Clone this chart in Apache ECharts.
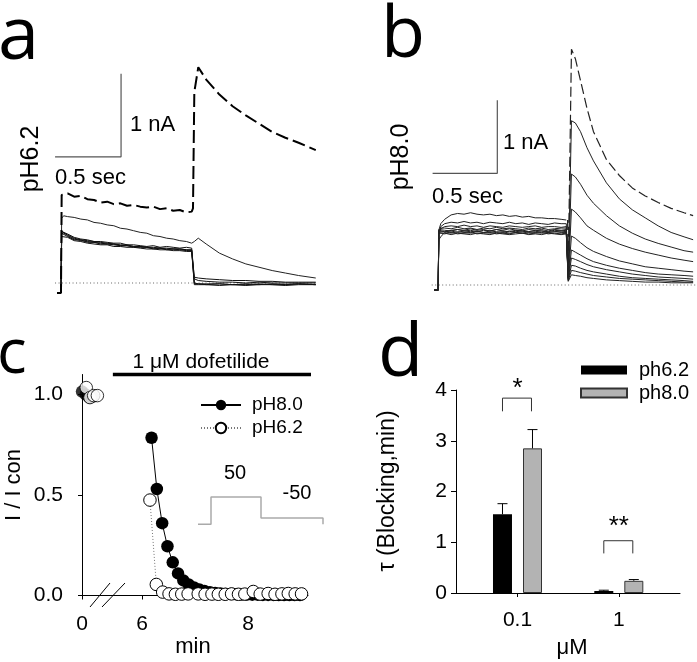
<!DOCTYPE html>
<html><head><meta charset="utf-8">
<script src="https://cdn.jsdelivr.net/npm/echarts@6/dist/echarts.min.js"></script>
<style>html,body{margin:0;padding:0;background:#fff}#c{width:697px;height:662px}</style>
</head><body><div id="c"></div>
<script>
// ---------- Panel a (pH6.2 current traces; time in s, current in nA) ----------
const timesA = [-0.03, 0, 0.005, 0.02, 0.05, 0.1, 0.15, 0.2, 0.25, 0.3, 0.35, 0.4, 0.45, 0.5, 0.55, 0.6, 0.65, 0.7, 0.75, 0.8, 0.85, 0.9, 0.95, 0.99, 1.0, 1.01, 1.04, 1.1, 1.2, 1.3, 1.4, 1.5, 1.6, 1.7, 1.8, 1.93];
const aControl = [-0.12, -0.12, 1.06, 1.07, 1.08, 1.04, 1.05, 1.01, 1.0, 0.97, 0.98, 0.95, 0.96, 0.93, 0.94, 0.92, 0.91, 0.92, 0.89, 0.9, 0.87, 0.88, 0.85, 0.86, 0.9, 2.3, 2.6, 2.45, 2.27, 2.13, 2.02, 1.92, 1.82, 1.75, 1.69, 1.6];
const aTrace1 = [-0.12, -0.12, 0.78, 0.81, 0.80, 0.79, 0.77, 0.76, 0.73, 0.72, 0.70, 0.69, 0.66, 0.65, 0.63, 0.61, 0.60, 0.57, 0.56, 0.54, 0.53, 0.51, 0.50, 0.48, 0.47, 0.50, 0.54, 0.47, 0.36, 0.29, 0.23, 0.19, 0.15, 0.12, 0.09, 0.06];
const aTrace2 = [-0.12, -0.12, 0.62, 0.63, 0.59, 0.55, 0.53, 0.52, 0.50, 0.50, 0.49, 0.48, 0.48, 0.46, 0.46, 0.45, 0.44, 0.45, 0.43, 0.44, 0.43, 0.42, 0.43, 0.42, 0.42, 0.05, 0.03, 0.02, 0.01, 0.01, 0.00, 0.01, 0.00, 0.00, 0.00, 0.00];
const aTrace3 = [-0.12, -0.12, 0.58, 0.61, 0.57, 0.53, 0.51, 0.50, 0.49, 0.48, 0.47, 0.47, 0.45, 0.45, 0.44, 0.44, 0.43, 0.42, 0.42, 0.41, 0.41, 0.41, 0.40, 0.40, 0.40, 0.0, -0.01, -0.01, -0.01, -0.02, -0.01, -0.02, -0.01, -0.02, -0.01, -0.02];
const aTrace4 = [-0.12, -0.12, 0.60, 0.58, 0.56, 0.52, 0.52, 0.49, 0.49, 0.47, 0.47, 0.46, 0.45, 0.45, 0.43, 0.43, 0.43, 0.41, 0.42, 0.40, 0.41, 0.40, 0.39, 0.40, 0.39, -0.01, -0.01, -0.02, -0.01, -0.02, -0.02, -0.01, -0.02, -0.02, -0.01, -0.02];
const aTrace5 = [-0.12, -0.12, 0.56, 0.57, 0.55, 0.51, 0.50, 0.48, 0.47, 0.46, 0.46, 0.44, 0.44, 0.43, 0.43, 0.42, 0.41, 0.41, 0.40, 0.40, 0.39, 0.39, 0.38, 0.38, 0.38, -0.02, -0.02, -0.02, -0.03, -0.02, -0.03, -0.02, -0.02, -0.03, -0.02, -0.02];
const aTrace6 = [-0.12, -0.12, 0.63, 0.60, 0.58, 0.54, 0.52, 0.51, 0.50, 0.49, 0.48, 0.47, 0.46, 0.46, 0.44, 0.44, 0.43, 0.43, 0.42, 0.42, 0.41, 0.41, 0.40, 0.39, 0.38, 0.07, 0.06, 0.05, 0.04, 0.03, 0.03, 0.02, 0.02, 0.01, 0.01, 0.01];
const aBaseline = [[-0.045, 0], [1.93, 0]];
const aScaleBar = [[-0.045, 1.52], [0.455, 1.52], [0.455, 2.52]];

// ---------- Panel b (pH8.0 current traces) ----------
const timesB = [-0.03, 0, 0.005, 0.02, 0.05, 0.1, 0.15, 0.2, 0.25, 0.3, 0.35, 0.4, 0.45, 0.5, 0.55, 0.6, 0.65, 0.7, 0.75, 0.8, 0.85, 0.9, 0.95, 0.99, 1.0, 1.005, 1.03, 1.06, 1.1, 1.15, 1.2, 1.3, 1.4, 1.5, 1.6, 1.7, 1.8, 1.9, 1.97];
const bControlPulse = [-0.07,-0.07,0.75,0.84,0.90,0.96,0.98,0.97,0.99,0.97,0.96,0.97,0.95,0.96,0.94,0.95,0.93,0.94,0.92,0.92,0.91,0.91,0.90,0.89];
const bControlTail = [0.89, 0.2, 3.23, 3.1, 2.8, 2.42, 2.1, 1.72, 1.5, 1.33, 1.22, 1.13, 1.05, 0.99, 0.95];
const bT1Pulse = [-0.07,-0.07,0.72,0.80,0.84,0.86,0.85,0.87,0.85,0.86,0.84,0.86,0.85,0.84,0.86,0.84,0.85,0.83,0.85,0.84,0.83,0.85,0.84,0.84];
const bT1Tail = [0.84, 0.15, 2.25, 2.22, 2.1, 1.88, 1.7, 1.4, 1.18, 1.03, 0.92, 0.81, 0.72, 0.66, 0.62];
const bT2Pulse = [-0.07,-0.07,0.70,0.77,0.80,0.81,0.80,0.82,0.80,0.81,0.79,0.81,0.80,0.79,0.81,0.80,0.79,0.80,0.81,0.79,0.80,0.80,0.79,0.80];
const bT2Tail = [0.80, 0.12, 1.52, 1.48, 1.38, 1.23, 1.12, 0.95, 0.81, 0.71, 0.63, 0.57, 0.52, 0.47, 0.45];
const bT3Pulse = [-0.07,-0.07,0.74,0.78,0.78,0.77,0.79,0.77,0.78,0.76,0.78,0.77,0.79,0.77,0.78,0.77,0.76,0.78,0.77,0.78,0.76,0.77,0.78,0.78];
const bT3Tail = [0.78, 0.1, 1.04, 1.0, 0.92, 0.81, 0.75, 0.64, 0.56, 0.5, 0.45, 0.41, 0.37, 0.34, 0.32];
const bT4Pulse = [-0.07,-0.07,0.62,0.66,0.72,0.75,0.76,0.75,0.77,0.75,0.76,0.74,0.76,0.75,0.77,0.75,0.74,0.76,0.75,0.76,0.74,0.76,0.75,0.76];
const bT4Tail = [0.76, 0.1, 0.67, 0.64, 0.58, 0.51, 0.46, 0.39, 0.33, 0.29, 0.25, 0.23, 0.21, 0.19, 0.18];
const bT5Pulse = [-0.07,-0.07,0.76,0.77,0.75,0.74,0.76,0.74,0.75,0.73,0.75,0.74,0.76,0.74,0.73,0.75,0.74,0.73,0.75,0.74,0.73,0.75,0.74,0.75];
const bT5Tail = [0.75, 0.09, 0.48, 0.45, 0.41, 0.36, 0.32, 0.27, 0.23, 0.2, 0.17, 0.15, 0.14, 0.13, 0.12];
const bT6Pulse = [-0.07,-0.07,0.75,0.74,0.73,0.74,0.72,0.74,0.73,0.74,0.72,0.74,0.73,0.72,0.74,0.73,0.74,0.72,0.73,0.74,0.72,0.73,0.74,0.73];
const bT6Tail = [0.73, 0.08, 0.37, 0.35, 0.32, 0.28, 0.25, 0.21, 0.18, 0.15, 0.13, 0.11, 0.1, 0.09, 0.08];
const bT7Pulse = [-0.07,-0.07,0.73,0.72,0.73,0.71,0.73,0.72,0.71,0.73,0.72,0.71,0.72,0.73,0.71,0.72,0.71,0.73,0.72,0.71,0.72,0.73,0.72,0.72];
const bT7Tail = [0.72, 0.07, 0.27, 0.26, 0.23, 0.2, 0.18, 0.15, 0.12, 0.1, 0.09, 0.08, 0.07, 0.06, 0.05];
const bT8Pulse = [-0.07,-0.07,0.72,0.71,0.70,0.72,0.70,0.71,0.72,0.70,0.71,0.72,0.70,0.71,0.70,0.72,0.71,0.70,0.71,0.72,0.70,0.71,0.70,0.71];
const bT8Tail = [0.71, 0.06, 0.2, 0.19, 0.17, 0.15, 0.13, 0.11, 0.09, 0.08, 0.07, 0.06, 0.05, 0.04, 0.04];
const bT9Pulse = [-0.07,-0.07,0.71,0.70,0.71,0.69,0.71,0.70,0.69,0.71,0.70,0.69,0.71,0.70,0.69,0.70,0.71,0.69,0.70,0.69,0.71,0.70,0.69,0.70];
const bT9Tail = [0.70, 0.05, 0.14, 0.13, 0.12, 0.1, 0.09, 0.07, 0.06, 0.05, 0.04, 0.04, 0.03, 0.03, 0.03];
const bBaseline = [[-0.05, 0], [1.99, 0]];
const bScaleBar = [[-0.043, 1.53], [0.457, 1.53], [0.457, 2.53]];

// ---------- Panel c (I / I con vs min) ----------
const c80LeftTimes = [0, 0.07, 0.14, 0.21];
const c80LeftVals = [1.015, 1.0, 0.985, 0.99];
const c62LeftTimes = [0.08, 0.15, 0.22, 0.29];
const c62LeftVals = [1.035, 0.985, 0.995, 0.995];
const c80Times = [6.18, 6.28, 6.38, 6.48, 6.58, 6.68, 6.78, 6.88, 6.98, 7.08, 7.18, 7.28, 7.38, 7.48, 7.58, 7.68, 7.78, 7.88, 7.98, 8.08, 8.18, 8.28, 8.38, 8.48, 8.58, 8.68, 8.78, 8.88, 8.98];
const c80Vals = [0.785, 0.53, 0.36, 0.245, 0.165, 0.11, 0.075, 0.055, 0.04, 0.03, 0.022, 0.016, 0.012, 0.01, 0.008, 0.007, 0.006, 0.005, 0.005, 0.004, 0.004, 0.003, 0.003, 0.003, 0.002, 0.002, 0.002, 0.002, 0.002];
const c62Times = [6.15, 6.27, 6.39, 6.51, 6.63, 6.75, 6.87, 7.06, 7.19, 7.32, 7.44, 7.57, 7.69, 7.82, 7.94, 8.1, 8.23, 8.38, 8.51, 8.64, 8.76, 8.89, 9.01];
const c62Vals = [0.475, 0.055, 0.017, 0.008, 0.006, 0.007, 0.008, 0.008, 0.006, 0.007, 0.006, 0.006, 0.008, 0.006, 0.007, 0.02, 0.007, 0.01, 0.006, 0.008, 0.01, 0.008, 0.008];
const cXTicksLeft = [0];
const cXTicksRight = [6, 8];
const cYTicks = [0, 0.5, 1.0];
const drugBar = [[5.45, 1.1], [9.3, 1.1]];
const protoTimes = [-0.26, 0, 0, 1, 1, 2.24, 2.24];
const protoVolts = [-80, -80, 50, 50, -50, -50, -80];

// ---------- Panel d (tau blocking) ----------
const dConc = ['0.1', '1'];
const dPos = [1, 2];
const d62 = [1.55, 0.04];
const d62Err = [0.21, 0.015];
const d80 = [2.85, 0.24];
const d80Err = [0.37, 0.025];
const sigTop = [3.84, 1.03];
const sigLeg = [3.58, 0.78];
const sigText = ['*', '**'];
const sigTextY = [4.02, 1.3];
const dYTicks = [0, 1, 2, 3, 4];

const zip = (xs, ys) => xs.map((x, i) => [x, ys[i]]);
const FONT = "'Liberation Sans', Arial, sans-serif";
const LETTER = "'Open Sans', 'Liberation Sans', sans-serif";

function trace(ax, data, color, width, type) {
  return {type: 'line', xAxisIndex: ax, yAxisIndex: ax, data: data, symbol: 'none', silent: true,
    lineStyle: {color: color, width: width, type: type || 'solid'}, clip: false, z: 2};
}

const series = [];
// panel a
series.push(trace(0, aBaseline, '#666', 1, [1, 2.5]));
series.push(trace(0, aScaleBar, '#555', 1.2));
[aTrace2, aTrace3, aTrace4, aTrace5, aTrace6].forEach(v => series.push(trace(0, zip(timesA, v), '#111', 1)));
series.push(trace(0, zip(timesA, aTrace1), '#222', 1));
series.push(trace(0, zip(timesA, aControl), '#000', 2, [13, 5]));
// panel b
series.push(trace(1, bBaseline, '#666', 1, [1, 2.5]));
series.push(trace(1, bScaleBar, '#555', 1.2));
const bPulses = [bT9Pulse, bT8Pulse, bT7Pulse, bT6Pulse, bT5Pulse, bT4Pulse, bT3Pulse, bT2Pulse, bT1Pulse];
const bTails = [bT9Tail, bT8Tail, bT7Tail, bT6Tail, bT5Tail, bT4Tail, bT3Tail, bT2Tail, bT1Tail];
bPulses.forEach((p, i) => series.push(trace(1, zip(timesB, p.concat(bTails[i])), '#222', 1)));
series.push(trace(1, zip(timesB.slice(0, 24), bControlPulse), '#222', 1));
series.push(trace(1, zip(timesB.slice(24), bControlTail), '#222', 1.2, [10, 4]));
// panel c
series.push({type: 'scatter', xAxisIndex: 2, yAxisIndex: 2, data: zip(c80LeftTimes, c80LeftVals), symbol: 'circle', symbolSize: 12.5,
  itemStyle: {color: '#000'}, clip: false, z: 3});
series.push({type: 'scatter', xAxisIndex: 2, yAxisIndex: 2, data: zip(c62LeftTimes, c62LeftVals), symbol: 'circle', symbolSize: 12.5,
  itemStyle: {color: '#fff', borderColor: '#000', borderWidth: 1}, clip: false, z: 4});
series.push({type: 'line', name: 'pH8.0', xAxisIndex: 3, yAxisIndex: 3, data: zip(c80Times, c80Vals), symbol: 'circle', symbolSize: 12.5,
  showAllSymbol: true, itemStyle: {color: '#000'}, lineStyle: {color: '#000', width: 1}, clip: false, z: 3});
series.push({type: 'line', name: 'pH6.2', xAxisIndex: 3, yAxisIndex: 3, data: zip(c62Times, c62Vals), symbol: 'circle', symbolSize: 12.5,
  showAllSymbol: true, itemStyle: {color: '#fff', borderColor: '#000', borderWidth: 1}, lineStyle: {color: '#777', width: 1, type: [1, 2]}, clip: false, z: 4});
series.push({type: 'line', xAxisIndex: 3, yAxisIndex: 3, data: drugBar, symbol: 'none', lineStyle: {color: '#000', width: 3.5}, clip: false, silent: true});
series.push({type: 'line', xAxisIndex: 4, yAxisIndex: 4, data: zip(protoTimes, protoVolts), symbol: 'none', lineStyle: {color: '#aaa', width: 1.5}, clip: false, silent: true});
// panel d
series.push({type: 'bar', name: 'ph6.2', xAxisIndex: 5, yAxisIndex: 5, data: zip(dPos, d62), barWidth: 19, barGap: '58%',
  itemStyle: {color: '#000'}});
series.push({type: 'bar', name: 'ph8.0', xAxisIndex: 5, yAxisIndex: 5, data: zip(dPos, d80), barWidth: 19, barGap: '58%',
  itemStyle: {color: '#b3b3b3', borderColor: '#333', borderWidth: 1}});
function errSeries(vals, errs, offset) {
  return {type: 'custom', xAxisIndex: 5, yAxisIndex: 5, silent: true, z: 3,
    data: dPos.map((p, i) => [p, vals[i], vals[i] + errs[i]]),
    renderItem: (params, api) => {
      const a = api.coord([api.value(0), api.value(1)]);
      const b = api.coord([api.value(0), api.value(2)]);
      const x = a[0] + offset;
      return {type: 'group', children: [
        {type: 'line', shape: {x1: x, y1: a[1], x2: x, y2: b[1]}, style: {stroke: '#000', lineWidth: 1}},
        {type: 'line', shape: {x1: x - 5, y1: b[1], x2: x + 5, y2: b[1]}, style: {stroke: '#000', lineWidth: 1}}
      ]};
    }};
}
series.push(errSeries(d62, d62Err, -15));
series.push(errSeries(d80, d80Err, 15));
series.push({type: 'custom', xAxisIndex: 5, yAxisIndex: 5, silent: true, z: 3,
  data: dPos.map((p, i) => [p, sigTop[i], sigLeg[i], sigTextY[i]]),
  renderItem: (params, api) => {
    const t = api.coord([api.value(0), api.value(1)]);
    const l = api.coord([api.value(0), api.value(2)]);
    const s = api.coord([api.value(0), api.value(3)]);
    const x1 = t[0] - 15, x2 = t[0] + 14;
    return {type: 'group', children: [
      {type: 'polyline', shape: {points: [[x1, l[1]], [x1, t[1]], [x2, t[1]], [x2, l[1]]]}, style: {stroke: '#333', lineWidth: 1, fill: null}},
      {type: 'text', x: t[0], y: s[1], style: {text: sigText[params.dataIndex], font: '26px ' + FONT, fill: '#000', align: 'center', verticalAlign: 'middle'}}
    ]};
  }});

const axisText = {color: '#000', fontSize: 21, fontFamily: FONT};
const blackLine = {show: true, onZero: false, lineStyle: {color: '#000', width: 1}};

const option = {
  animation: false,
  backgroundColor: '#fff',
  grid: [
    {left: 54.4, top: 50.6, width: 264, height: 249},
    {left: 431.7, top: 36.8, width: 269, height: 262.8},
    {left: 82, top: 374.5, width: 28, height: 221},
    {left: 110, top: 374.5, width: 198, height: 221},
    {left: 198, top: 497, width: 125, height: 27.3},
    {left: 456, top: 390, width: 224, height: 203}
  ],
  xAxis: [
    {gridIndex: 0, type: 'value', min: -0.05, max: 1.95, show: false},
    {gridIndex: 1, type: 'value', min: -0.05, max: 2.0, show: false},
    {gridIndex: 2, type: 'value', min: 0, max: 0.528, axisLine: blackLine, splitLine: {show: false},
      axisTick: {show: true, customValues: cXTicksLeft, length: 4, lineStyle: {color: '#000'}},
      axisLabel: Object.assign({customValues: cXTicksLeft, margin: 18}, axisText)},
    {gridIndex: 3, type: 'value', min: 5.396, max: 9.132, axisLine: blackLine, splitLine: {show: false},
      axisTick: {show: true, customValues: cXTicksRight, length: 4, lineStyle: {color: '#000'}},
      axisLabel: Object.assign({customValues: cXTicksRight, margin: 18}, axisText)},
    {gridIndex: 4, type: 'value', min: -0.26, max: 2.24, show: false},
    {gridIndex: 5, type: 'value', min: 0.393, max: 2.604, axisLine: blackLine, splitLine: {show: false},
      axisTick: {show: true, customValues: dPos, length: 4, lineStyle: {color: '#000'}},
      axisLabel: Object.assign({customValues: dPos, margin: 17, formatter: v => dConc[Math.round(v) - 1]}, axisText)}
  ],
  yAxis: [
    {gridIndex: 0, type: 'value', min: -0.2, max: 2.8, show: false},
    {gridIndex: 1, type: 'value', min: -0.2, max: 3.4, show: false},
    {gridIndex: 2, type: 'value', min: 0, max: 1.1, axisLine: blackLine, splitLine: {show: false},
      axisTick: {show: true, customValues: cYTicks, length: 4, lineStyle: {color: '#000'}},
      axisLabel: Object.assign({customValues: cYTicks, margin: 19, formatter: v => v.toFixed(1)}, axisText)},
    {gridIndex: 3, type: 'value', min: 0, max: 1.1, show: false},
    {gridIndex: 4, type: 'value', min: -80, max: 50, show: false},
    {gridIndex: 5, type: 'value', min: 0, max: 4, axisLine: blackLine, splitLine: {show: false},
      axisTick: {show: true, customValues: dYTicks, length: 5, lineStyle: {color: '#000'}},
      axisLabel: Object.assign({customValues: dYTicks, margin: 9}, axisText)}
  ],
  legend: [
    {data: ['pH8.0', 'pH6.2'], orient: 'vertical', left: 200, top: 393.5, itemWidth: 40, itemHeight: 13, itemGap: 0,
      selectedMode: false, padding: 0, textStyle: {color: '#000', fontSize: 19, fontFamily: FONT, lineHeight: 23, padding: [0, 0, 0, 6]}},
    {data: ['ph6.2', 'ph8.0'], orient: 'vertical', left: 580, top: 358.5, itemWidth: 46, itemHeight: 9, itemGap: 0, icon: 'rect',
      selectedMode: false, padding: 0, textStyle: {color: '#000', fontSize: 20, fontFamily: FONT, lineHeight: 23, padding: [0, 0, 0, 7]}}
  ],
  graphic: [
    {type: 'text', x: -2, y: 38, style: {text: 'a', font: '74px ' + LETTER, fill: '#000', verticalAlign: 'middle'}},
    {type: 'text', x: 381, y: 36, style: {text: 'b', font: '72px ' + LETTER, fill: '#000', verticalAlign: 'middle'}},
    {type: 'text', x: -3, y: 355, style: {text: 'c', font: '62px ' + LETTER, fill: '#000', verticalAlign: 'middle'}},
    {type: 'text', x: 378, y: 355, style: {text: 'd', font: '74px ' + LETTER, fill: '#000', verticalAlign: 'middle'}},
    {type: 'text', x: 130, y: 125, style: {text: '1 nA', font: '22px ' + FONT, fill: '#000', verticalAlign: 'middle'}},
    {type: 'text', x: 55, y: 178, style: {text: '0.5 sec', font: '22px ' + FONT, fill: '#000', verticalAlign: 'middle'}},
    {type: 'text', x: 31, y: 159, rotation: Math.PI / 2, style: {text: 'pH6.2', font: '25px ' + FONT, fill: '#000', align: 'center', verticalAlign: 'middle'}},
    {type: 'text', x: 503, y: 143, style: {text: '1 nA', font: '22px ' + FONT, fill: '#000', verticalAlign: 'middle'}},
    {type: 'text', x: 432, y: 197, style: {text: '0.5 sec', font: '22px ' + FONT, fill: '#000', verticalAlign: 'middle'}},
    {type: 'text', x: 401, y: 157, rotation: Math.PI / 2, style: {text: 'pH8.0', font: '25px ' + FONT, fill: '#000', align: 'center', verticalAlign: 'middle'}},
    {type: 'text', x: 201, y: 362, style: {text: '1 \u03bcM dofetilide', font: '21px ' + FONT, fill: '#000', align: 'center', verticalAlign: 'middle'}},
    {type: 'text', x: 14, y: 485, rotation: Math.PI / 2, style: {text: 'I / I con', font: '22px ' + FONT, fill: '#000', align: 'center', verticalAlign: 'middle'}},
    {type: 'text', x: 193, y: 647, style: {text: 'min', font: '22px ' + FONT, fill: '#000', align: 'center', verticalAlign: 'middle'}},
    {type: 'text', x: 235, y: 473, style: {text: '50', font: '20px ' + FONT, fill: '#000', align: 'center', verticalAlign: 'middle'}},
    {type: 'text', x: 297, y: 493, style: {text: '-50', font: '20px ' + FONT, fill: '#000', align: 'center', verticalAlign: 'middle'}},
    {type: 'line', shape: {x1: 90, y1: 607, x2: 110, y2: 583}, style: {stroke: '#000', lineWidth: 1}},
    {type: 'line', shape: {x1: 102, y1: 607, x2: 125, y2: 583}, style: {stroke: '#000', lineWidth: 1}},
    {type: 'text', x: 388, y: 491, rotation: Math.PI / 2, style: {text: '\u03c4 (Blocking,min)', font: '23px ' + FONT, fill: '#000', align: 'center', verticalAlign: 'middle'}},
    {type: 'text', x: 572, y: 648, style: {text: '\u03bcM', font: '22px ' + FONT, fill: '#000', align: 'center', verticalAlign: 'middle'}}
  ],
  series: series
};
const chart = echarts.init(document.getElementById('c'), null, {renderer: 'canvas'});
chart.setOption(option);
</script></body></html>
